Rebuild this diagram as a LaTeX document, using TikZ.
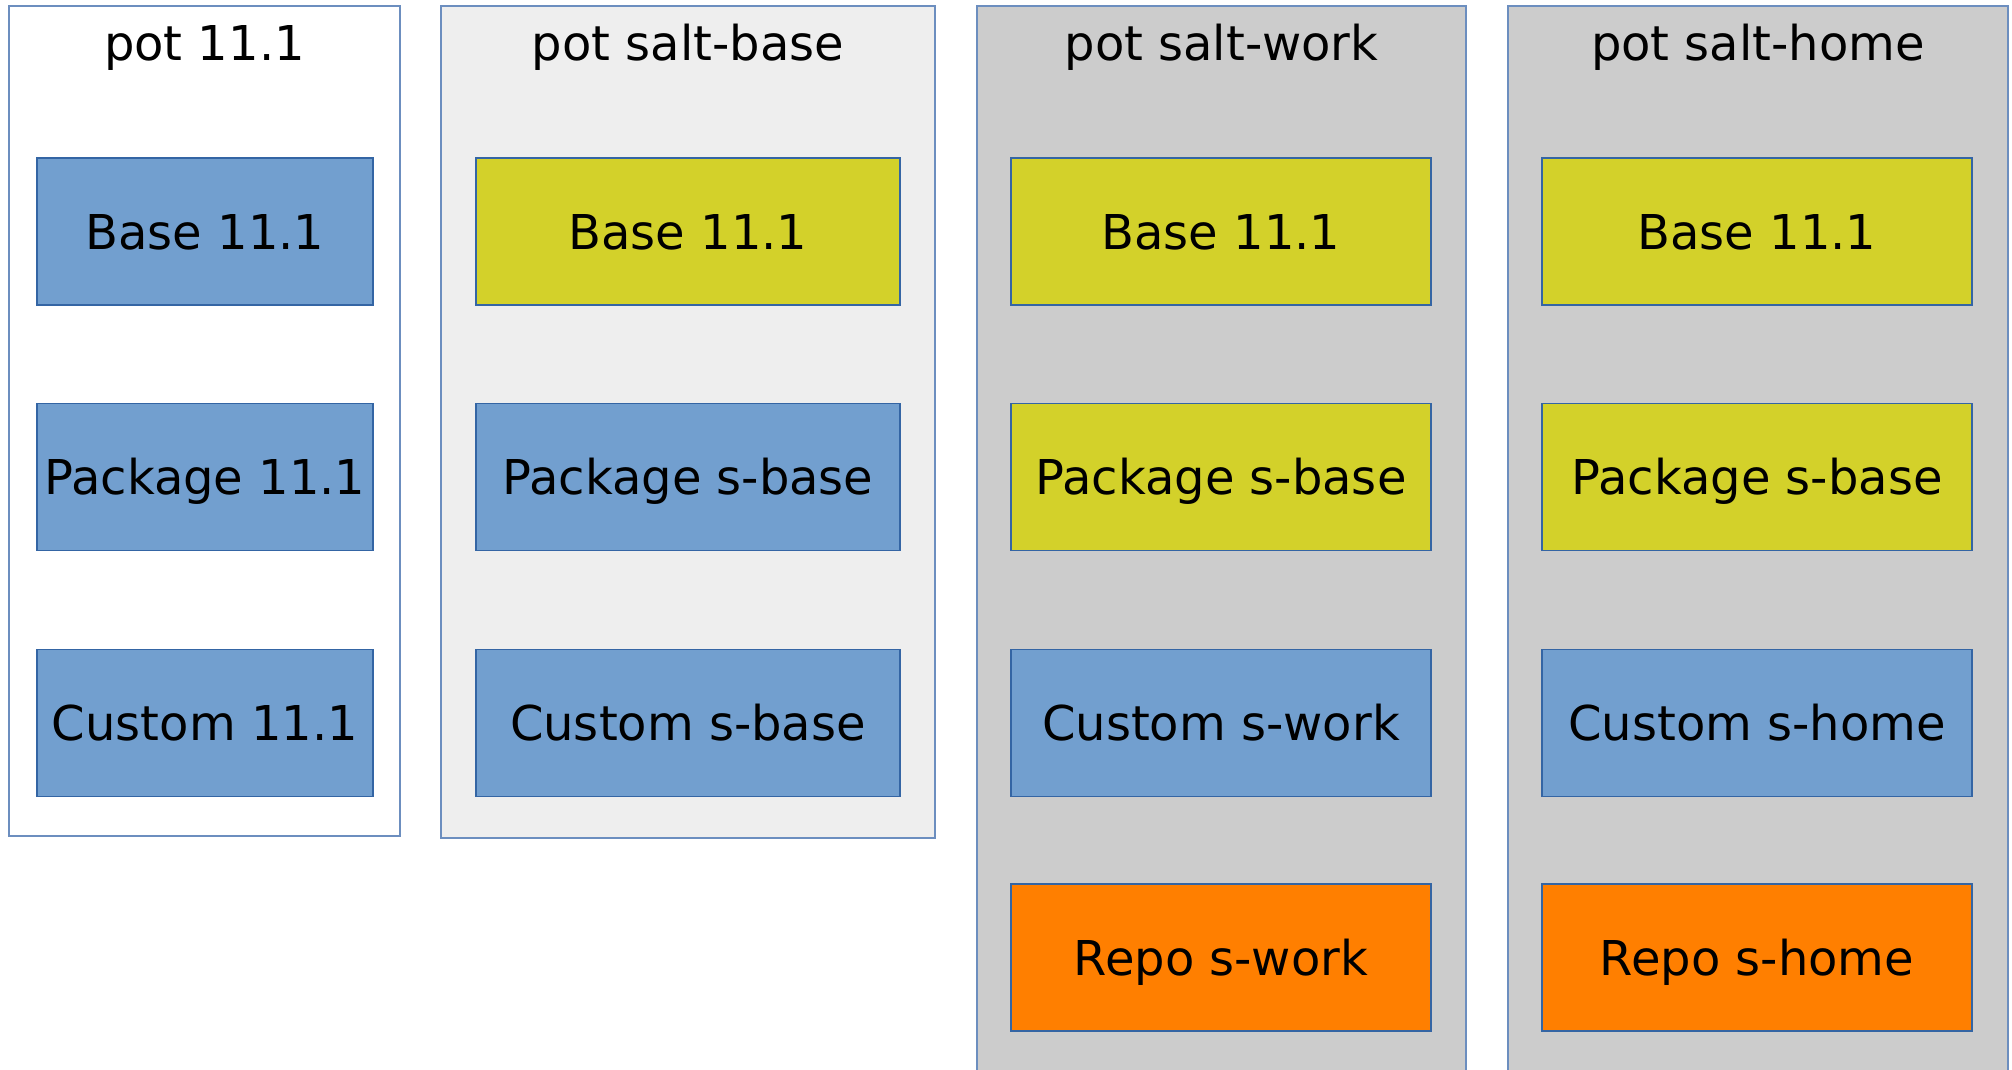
\documentclass[tikz,border=0pt]{standalone}
\usepackage{fontspec}
\setmainfont{DejaVu Sans}
\definecolor{skyblue}{HTML}{729FCF}
\definecolor{edgeblue}{HTML}{3465A4}
\definecolor{potedge}{HTML}{6C8EBF}
\definecolor{limey}{HTML}{D3D12A}
\definecolor{orng}{HTML}{FF7F00}
\definecolor{lightgrey}{HTML}{EEEEEE}
\definecolor{midgrey}{HTML}{CCCCCC}
\begin{document}
\begin{tikzpicture}[x=1pt,y=-1pt,
  potbox/.style={draw=potedge,line width=1.2pt},
  pottitle/.style={anchor=base,font=\fontsize{48}{56}\selectfont,inner sep=0pt},
  layer/.style={draw=edgeblue,line width=1.2pt,inner sep=0pt,
    font=\fontsize{48}{56}\selectfont,text height=35pt,text depth=0pt},
  bluebox/.style={layer,fill=skyblue},
  yellbox/.style={layer,fill=limey},
  orngbox/.style={layer,fill=orng}]
\useasboundingbox (0,0) rectangle (2012,1069);

% pots
\path[potbox,fill=white]      (9,6)    rectangle (400,836);
\path[potbox,fill=lightgrey]  (441,6)  rectangle (935,838);
\path[potbox,fill=midgrey]    (977,6)  rectangle (1466,1080);
\path[potbox,fill=midgrey]    (1508,6) rectangle (2008,1080);

\node[pottitle] (t1) at (204.5,60) {pot 11.1};
\node[pottitle] (t2) at (688,60)   {pot salt-base};
\node[pottitle] (t3) at (1221.5,60){pot salt-work};
\node[pottitle] (t4) at (1758,60)  {pot salt-home};

% layers: column centres and widths
\def\rowA{231.5}\def\rowB{477}\def\rowC{723}\def\rowD{957.5}
\tikzset{
  c1/.style={minimum width=336pt,minimum height=147pt},
  c2/.style={minimum width=424pt,minimum height=147pt},
  c3/.style={minimum width=420pt,minimum height=147pt},
  c4/.style={minimum width=430pt,minimum height=147pt}}

\node[bluebox,c1] (b1) at (205,\rowA) {Base 11.1};
\node[bluebox,c1] (p1) at (205,\rowB) {Package 11.1};
\node[bluebox,c1] (u1) at (205,\rowC) {Custom 11.1};

\node[yellbox,c2] (b2) at (688,\rowA) {Base 11.1};
\node[bluebox,c2] (p2) at (688,\rowB) {Package s-base};
\node[bluebox,c2] (u2) at (688,\rowC) {Custom s-base};

\node[yellbox,c3] (b3) at (1221,\rowA) {Base 11.1};
\node[yellbox,c3] (p3) at (1221,\rowB) {Package s-base};
\node[bluebox,c3] (u3) at (1221,\rowC) {Custom s-work};
\node[orngbox,c3] (r3) at (1221,\rowD) {Repo s-work};

\node[yellbox,c4] (b4) at (1757,\rowA) {Base 11.1};
\node[yellbox,c4] (p4) at (1757,\rowB) {Package s-base};
\node[bluebox,c4] (u4) at (1757,\rowC) {Custom s-home};
\node[orngbox,c4] (r4) at (1757,\rowD) {Repo s-home};
\end{tikzpicture}
\end{document}
